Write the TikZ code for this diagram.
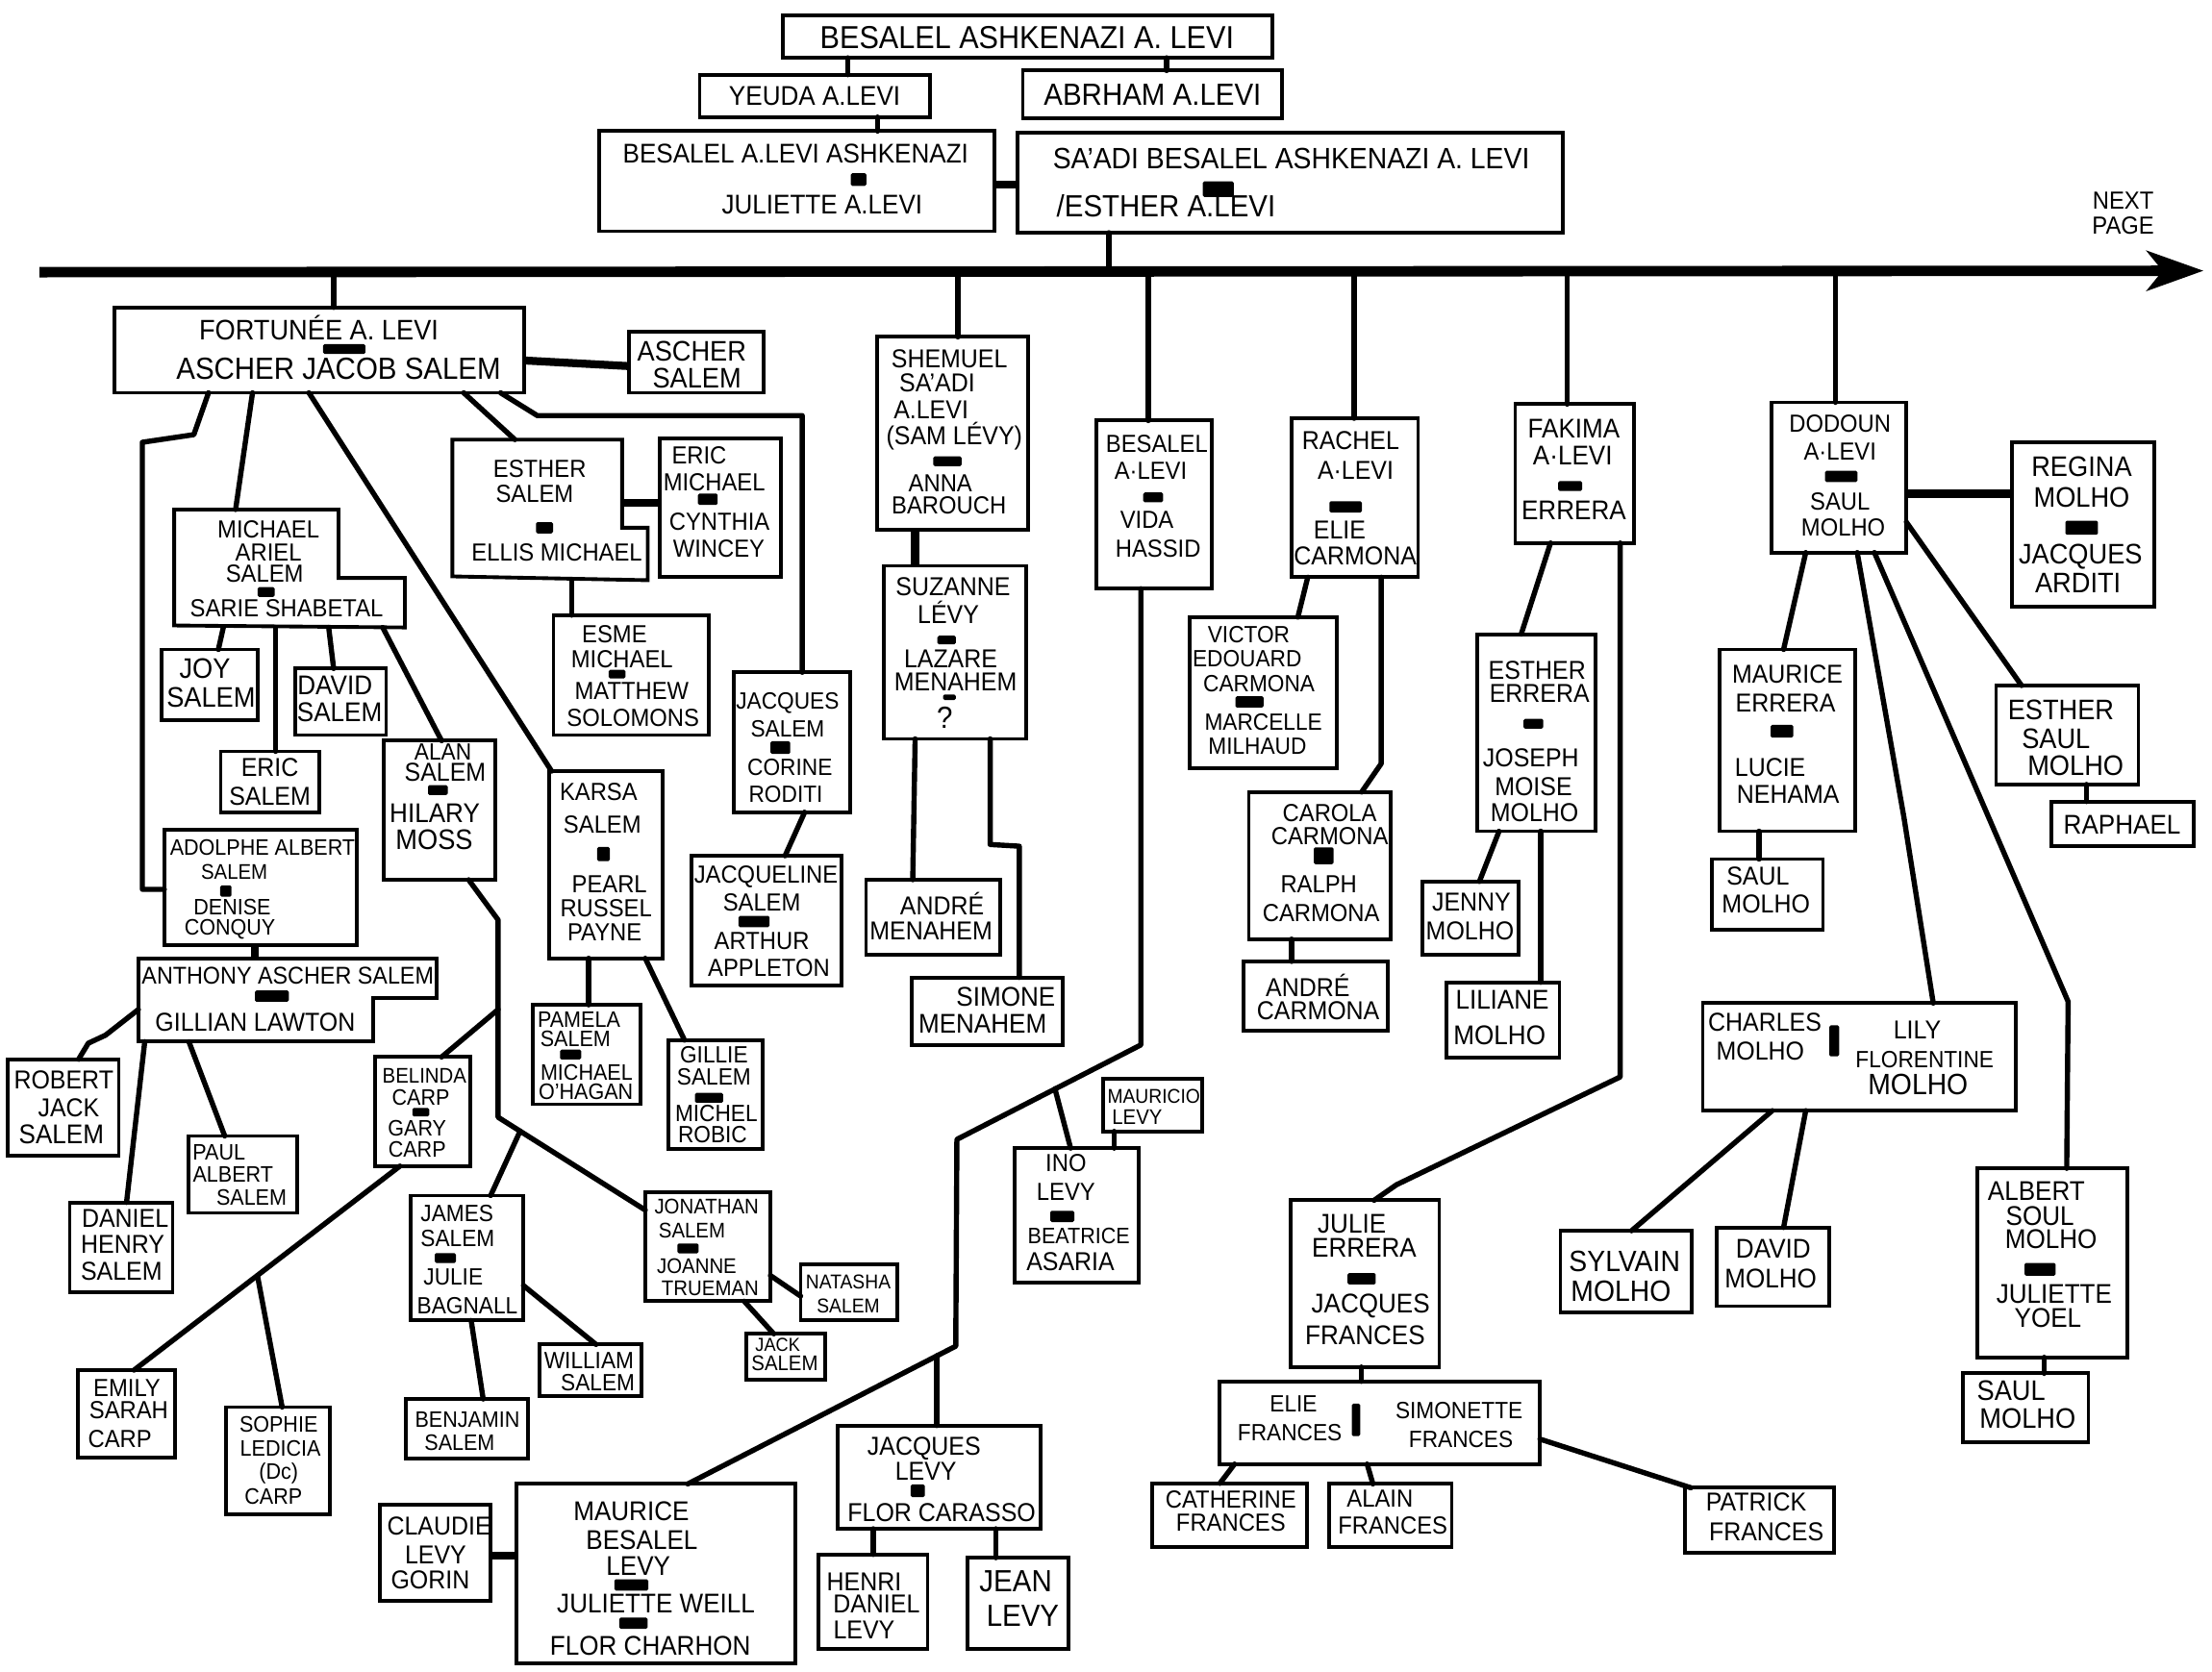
\documentclass[tikz,border=0pt]{standalone}
\usepackage{fontspec}
\setmainfont{Liberation Sans}[FakeStretch=0.926]
\usetikzlibrary{arrows.meta}
\newcounter{lbn}
\tikzset{
  bx/.style={draw, line width=1.5pt, inner sep=0pt, outer sep=0pt},
  bxl/.style={line width=1.5pt, line join=miter},
  lb/.style={inner sep=0pt, outer sep=0pt, align=center},
  mk/.style={fill=black, inner sep=0pt, outer sep=0pt, rounded corners=0.6pt},
  cn/.style={line width=2.1pt, line cap=round, line join=round},
  tk/.style={line width=3.2pt},
}
\newcommand\Lb[3][11]{\stepcounter{lbn}\pgfmathsetmacro\lbsz{#1*0.95}\node[lb,font=\fontsize{\lbsz}{\lbsz}\selectfont] (lb\arabic{lbn}) at (#2) {#3};}
\newcommand\Mk[3]{\stepcounter{lbn}\node[mk,minimum width={#2*0.02cm},minimum height={#3*0.02cm}] (mk\arabic{lbn}) at (#1) {};}
\newcommand\Bx[6][]{\node[bx,#1,minimum width={(#5-#3)*0.02cm},minimum height={(#6-#4)*0.02cm}] (#2) at ({(#3+#5)/2},{(#4+#6)/2}) {};}
\begin{document}
\begin{tikzpicture}[x=0.02cm,y=-0.02cm]
\fill[white] (0,0) rectangle (1568,1185);
\useasboundingbox (0,0) rectangle (1568,1185);

% ---------------- top generations
\Bx{top}{555}{11}{902}{41}
\Lb[13.5]{728,27}{BESALEL ASHKENAZI A. LEVI}
\Bx{yeuda}{496}{53}{659}{83}
\Lb[11.5]{577.5,68}{YEUDA A.LEVI}
\Bx{abrham}{725}{50}{909}{84}
\Lb[13]{817,67}{ABRHAM A.LEVI}
\Bx{bfour}{425}{93}{705}{164}
\Lb[11.5]{564,109}{BESALEL A.LEVI ASHKENAZI}
\Mk{608.6,127.3}{11}{9}
\Lb[11.5]{582.8,145.4}{JULIETTE A.LEVI}
\Bx{bfive}{721}{94}{1108}{165}
\Lb[12.5]{915.3,112.5}{SA'ADI BESALEL ASHKENAZI A. LEVI}
\Mk{863.6,134.1}{22}{11}
\Lb[13]{826.6,146}{/ESTHER A.LEVI}

\coordinate (tlL) at (28,193);
\coordinate (tlR) at (1562,192);
\draw[line width=4.2pt,-{Stealth[length=0.8cm,width=0.56cm,inset=0.22cm]}] (tlL) -- (tlR);
\Lb[10.5]{1505,142}{NEXT}
\Lb[10.5]{1505,160}{PAGE}

\draw[cn] (top.south -| 601,0) -- (yeuda.north -| 601,0);
\draw[cn] (top.south -| 827,0) -- (abrham.north -| 827,0);
\draw[cn] (yeuda.south -| 622,0) -- (bfour.north -| 622,0);
\draw[tk] (bfour.east |- 0,131) -- (bfive.west |- 0,131);
\draw[cn] (bfive.south -| 786,0) -- (tlL -| 786,0);

% ---------------- Fortunee branch
\Bx{fort}{81}{218}{371.5}{278.5}
\Lb[12]{226,232.7}{FORTUNÉE A. LEVI}
\Mk{244,247.5}{30}{7}
\Lb[13]{240,261.5}{ASCHER JACOB SALEM}
\draw[cn] (tlL -| 236.6,0) -- (fort.north -| 236.6,0);
\Bx{ascher}{446}{235.4}{541}{278.5}
\Lb[12]{490.4,249}{ASCHER}
\Lb[12]{494,268}{SALEM}
\draw[tk] (fort.east |- 0,255.6) -- (ascher.west |- 0,259.6);

% Esther Salem (L-shaped)
\Bx[draw=none]{esther}{320.7}{311.7}{459.1}{411.4}
\draw[bxl] (esther.north west) -- (441,311.7) -- (441,374.2) -- (459.1,374.2) -- (esther.south east) -- (320.7,408.7) -- cycle;
\Lb[10.5]{382.6,332.4}{ESTHER}
\Lb[10.5]{379,350}{SALEM}
\Mk{386,374.2}{12}{8}
\Lb[10.5]{394.8,391.7}{ELLIS MICHAEL}
\coordinate (estherR) at (441,356.7);
\draw[cn] (fort.south -| 328.7,0) -- (esther.north -| 365,0);

\Bx{ericm}{467.8}{310.9}{553.8}{409.3}
\Lb[10.5]{495.6,323}{ERIC}
\Lb[10.5]{506.3,341.9}{MICHAEL}
\Mk{501.7,354}{14}{8}
\Lb[10.5]{510,370.2}{CYNTHIA}
\Lb[10.5]{509.6,389.1}{WINCEY}
\draw[tk] (estherR) -- (ericm.west |- estherR);

\Bx{esme}{392.3}{436.2}{502.6}{521.2}
\Lb[10.5]{435.6,449.7}{ESME}
\Lb[10.5]{440.9,467.3}{MICHAEL}
\Mk{437.4,478}{12}{6}
\Lb[10.5]{447.8,490.2}{MATTHEW}
\Lb[10.5]{448.7,509}{SOLOMONS}
\draw[cn] (esther.south -| 405.2,0) -- (esme.north -| 405.2,0);

\Bx{jacqs}{520}{476.7}{602.4}{575.9}
\Lb[10]{558.3,498.3}{JACQUES}
\Lb[10]{558.3,517.1}{SALEM}
\Mk{553.2,530.1}{14}{9}
\Lb[10]{559.9,544.1}{CORINE}
\Lb[10]{557,563}{RODITI}
\draw[cn] (fort.south -| 354.8,0) -- (380.9,294.7) -- (568.7,294.7) -- (jacqs.north -| 568.7,0);

\Bx{jacqline}{490}{606.8}{596.5}{698.9}
\Lb[10.5]{543,621.6}{JACQUELINE}
\Lb[10.5]{540,639.8}{SALEM}
\Mk{534.5,653.4}{22}{8}
\Lb[10.5]{540,667}{ARTHUR}
\Lb[10.5]{545,686.4}{APPLETON}
\draw[cn] (jacqs.south -| 570.4,0) -- (jacqline.north -| 556.5,0);

% Karsa
\Bx{karsa}{389}{546.8}{469.6}{679.5}
\Lb[10.5]{424.3,561.6}{KARSA}
\Lb[10.5]{427,584.5}{SALEM}
\Mk{427.8,605.6}{9}{10}
\Lb[10.5]{432,627.2}{PEARL}
\Lb[10.5]{429.6,644.2}{RUSSEL}
\Lb[10.5]{428.6,661.3}{PAYNE}
\draw[cn] (fort.south -| 219,0) -- (karsa.north -| 391,0);

\Bx{pamela}{377.4}{712.5}{454}{783}
\Lb[9.5]{410.4,722.7}{PAMELA}
\Lb[9.5]{407.9,736.3}{SALEM}
\Mk{404.5,747.7}{15}{7}
\Lb[9.5]{415.8,760.2}{MICHAEL}
\Lb[9.5]{415.3,773.8}{O'HAGAN}
\draw[cn] (karsa.south -| 417.3,0) -- (pamela.north -| 417.3,0);

\Bx{gillie}{473.8}{737.5}{540.9}{814.7}
\Lb[10]{506.1,747.7}{GILLIE}
\Lb[10]{506.1,763.6}{SALEM}
\Mk{502.6,778.4}{20}{7}
\Lb[10]{507.8,789.7}{MICHEL}
\Lb[10]{505.1,804.5}{ROBIC}
\draw[cn] (karsa.south -| 457.4,0) -- (gillie.north -| 485.2,0);

% Michael Ariel (L-shaped)
\Bx[draw=none]{michael}{123.5}{361.3}{287}{444.9}
\draw[bxl] (michael.north west) -- (240,361.3) -- (240,409.8) -- (287,409.8) -- (michael.south east) -- (123.5,443.5) -- cycle;
\Lb[10.5]{190.3,375.6}{MICHAEL}
\Lb[10.5]{190.3,391.5}{ARIEL}
\Lb[10.5]{187.6,406.8}{SALEM}
\Mk{188.7,419.8}{12}{7}
\Lb[10.5]{203.2,431.2}{SARIE SHABETAL}
\draw[cn] (fort.south -| 179,0) -- (michael.north -| 167,0);

\Bx{joy}{114.8}{460.5}{182.6}{510.4}
\Lb[12]{145.2,474}{JOY}
\Lb[12]{149.6,494.2}{SALEM}
\draw[cn] (michael.south -| 158.3,0) -- (joy.north -| 154.8,0);

\Bx{eric}{156.5}{532.8}{226.1}{575.9}
\Lb[11]{191.3,544.1}{ERIC}
\Lb[11]{191.3,564.3}{SALEM}
\draw[cn] (michael.south -| 195.5,0) -- (eric.north -| 195.5,0);

\Bx{david}{209.4}{474}{273.7}{521.2}
\Lb[11.5]{237.4,486.1}{DAVID}
\Lb[11.5]{240.7,505}{SALEM}
\draw[cn] (michael.south -| 233,0) -- (david.north -| 236.5,0);

\Bx{alan}{272}{525.2}{351.3}{623.8}
\Lb[10]{314,533.3}{ALAN}
\Lb[11]{315.6,547.8}{SALEM}
\Mk{310.4,560.2}{14}{7}
\Lb[11.5]{308.2,576.6}{HILARY}
\Lb[12]{307.8,595.6}{MOSS}
\draw[cn] (michael.south -| 271.3,0) -- (alan.north -| 313,0);

% left long line to Adolphe
\Bx{adolphe}{116.5}{588.5}{253.2}{670.3}
\Lb[9.5]{186.1,601.1}{ADOLPHE ALBERT}
\Lb[9]{166.1,618.2}{SALEM}
\Mk{160.1,631.8}{8}{8}
\Lb[9.5]{164.6,643.3}{DENISE}
\Lb[9.5]{163,659.2}{CONQUY}
\draw[cn] (fort.south -| 147.8,0) -- (137.4,308.2) -- (100.9,313.6) -- (100.9,630.6) -- (adolphe.west |- 0,630.6);

\Bx[draw=none]{anthony}{98.1}{679.5}{309.6}{738.6}
\draw[bxl] (anthony.north west) -- (anthony.north east) -- (309.6,707.9) -- (264.4,707.9) -- (264.4,738.6) -- (anthony.south west) -- cycle;
\Lb[10.3]{204,692}{ANTHONY ASCHER SALEM}
\Mk{192.7,706.3}{24}{8}
\Lb[11]{180.9,724.9}{GILLIAN LAWTON}
\draw[tk] (adolphe.south -| 180.9,0) -- (anthony.north -| 180.9,0);

\Bx{robert}{5.2}{751.1}{84.2}{819.3}
\Lb[11]{45.2,765.9}{ROBERT}
\Lb[11]{48.7,785.2}{JACK}
\Lb[11.5]{43.5,804.5}{SALEM}
\draw[cn] (anthony.west |- 0,715.8) -- (74.8,734) -- (62.6,739.7) -- (robert.north -| 55.7,0);

\Bx{daniel}{49.4}{852.6}{122.4}{916.3}
\Lb[11]{88.7,864}{DANIEL}
\Lb[11]{87,882.1}{HENRY}
\Lb[11]{86.1,901.4}{SALEM}
\draw[cn] (anthony.south -| 102.6,0) -- (daniel.north -| 89.7,0);

\Bx{paul}{133.9}{805.5}{210.4}{860}
\Lb[9.5]{155.3,817}{PAUL}
\Lb[9.5]{165.2,832.9}{ALBERT}
\Lb[9.5]{178.3,848.8}{SALEM}
\draw[cn] (anthony.south -| 133.9,0) -- (paul.north -| 159.3,0);

% Alan descendants
\Bx{belinda}{266.1}{749.5}{333.2}{826.8}
\Lb[9]{300.9,762.5}{BELINDA}
\Lb[9.5]{298.3,778.4}{CARP}
\Mk{298.3,788.6}{12}{6}
\Lb[9.5]{295.7,800}{GARY}
\Lb[9.5]{295.7,814.7}{CARP}

\Bx{jonathan}{457.4}{845.4}{546.1}{922.6}
\Lb[9]{500.9,855.6}{JONATHAN}
\Lb[9]{490.5,872.7}{SALEM}
\Mk{487.7,885.2}{15}{7}
\Lb[9]{493.9,897.7}{JOANNE}
\Lb[9]{503.4,913.6}{TRUEMAN}

\Bx{james}{291}{847.7}{371}{936.3}
\Lb[10]{324,860.2}{JAMES}
\Lb[10]{324.4,878.4}{SALEM}
\Mk{315.7,892}{15}{7}
\Lb[10]{321.3,905.6}{JULIE}
\Lb[10]{331.3,926.1}{BAGNALL}

\draw[cn] (alan.south -| 332.2,0) -- (353.1,652.3) -- (353.1,792.2) -- (jonathan.west |- 0,858);
\draw[cn] (353.1,715.8) -- (belinda.north -| 313,0);
\draw[cn] (368.7,802) -- (james.north -| 347.8,0);

\Bx{natasha}{567.5}{896.5}{636.1}{936.3}
\Lb[8.5]{601.3,908.9}{NATASHA}
\Lb[8.5]{601.3,926}{SALEM}
\draw[cn] (jonathan.east |- 0,904.4) -- (natasha.west |- 0,919);

\Bx{jack}{529}{945.8}{585}{978.3}
\Lb[8]{551.3,953.3}{JACK}
\Lb[9]{556.3,966.9}{SALEM}
\draw[cn] (jonathan.south -| 527.5,0) -- (jack.north -| 548.5,0);

\Bx{benjamin}{287.5}{992}{374}{1034}
\Lb[9.5]{331.3,1006.8}{BENJAMIN}
\Lb[9.5]{325.8,1022.7}{SALEM}
\draw[cn] (james.south -| 334,0) -- (benjamin.north -| 342.5,0);

\Bx{william}{382.5}{953.3}{455}{989.6}
\Lb[10]{417.5,964.7}{WILLIAM}
\Lb[10]{423.8,980.6}{SALEM}
\draw[cn] (james.east |- 0,911.5) -- (william.north -| 422.5,0);

\Bx{emily}{55}{971.5}{124}{1033.8}
\Lb[10.5]{90,984}{EMILY}
\Lb[10.5]{91.3,999.9}{SARAH}
\Lb[10.5]{85,1020.4}{CARP}
\Bx{sophie}{160}{997.7}{234}{1073.8}
\Lb[9.5]{197.5,1010.2}{SOPHIE}
\Lb[9.5]{198.8,1027}{LEDICIA}
\Lb[9.5]{197.5,1044.5}{(Dc)}
\Lb[9.5]{193.8,1061}{CARP}
\draw[cn] (belinda.south -| 283.5,0) -- (emily.north -| 95,0);
\coordinate (bsplit) at (182.5,904.5);
\draw[cn] (bsplit) -- (sophie.north -| 200,0);

% ---------------- Shemuel branch
\Bx{shemuel}{621.9}{238.9}{728.7}{375.6}
\Lb[11]{673,254.3}{SHEMUEL}
\Lb[11]{664.3,271.8}{SA'ADI}
\Lb[11]{660,290.7}{A.LEVI}
\Lb[11]{676.5,309.5}{(SAM LÉVY)}
\Mk{671.6,327.1}{20}{7}
\Lb[10.5]{666.6,342.8}{ANNA}
\Lb[10.5]{672.7,358.5}{BAROUCH}
\draw[cn] (tlL -| 679,0) -- (shemuel.north -| 679,0);

\Bx{suzanne}{626.8}{401.2}{727.6}{523.9}
\Lb[11]{675.6,416}{SUZANNE}
\Lb[11]{672.2,434}{LÉVY}
\Mk{671,453.8}{13}{6}
\Lb[11]{673.9,467.3}{LAZARE}
\Lb[11]{677.4,483.4}{MENAHEM}
\Mk{673,494.4}{9}{4}
\Lb[13]{669.6,509}{?}
\draw[tk] (shemuel.south -| 648.7,0) -- (suzanne.north -| 648.7,0);

\Bx{andre}{613.9}{623.8}{708.9}{676.8}
\Lb[11]{667.8,640.9}{ANDRÉ}
\Lb[11]{660,660.2}{MENAHEM}
\draw[cn] (suzanne.south -| 648.7,0) -- (andre.north -| 647,0);

\Bx{simone}{646.5}{693.1}{753.3}{740.8}
\Lb[11.5]{713,706.7}{SIMONE}
\Lb[11.5]{696.5,726}{MENAHEM}
\draw[cn] (suzanne.south -| 701.9,0) -- (701.9,598.8) -- (722.5,600) -- (simone.north -| 722.5,0);

% ---------------- Besalel A.Levi branch
\Bx{bsl}{777.4}{298.2}{859.1}{417.4}
\Lb[10.5]{820,314.9}{BESALEL}
\Lb[10.5]{815.7,333.8}{A·LEVI}
\Mk{817.4,352.7}{14}{7}
\Lb[10.5]{813,368.8}{VIDA}
\Lb[10.5]{820.9,389.1}{HASSID}
\draw[cn] (tlL -| 814,0) -- (bsl.north -| 814,0);

\Bx{maurice}{366}{1052.2}{564}{1179.5}
\Lb[11.5]{447.5,1071.5}{MAURICE}
\Lb[11.5]{455,1092}{BESALEL}
\Lb[11.5]{452.5,1110.2}{LEVY}
\Mk{447.5,1123.8}{24}{8}
\Lb[11.5]{465,1137.4}{JULIETTE WEILL}
\Mk{449,1151}{20}{8}
\Lb[11.5]{461,1167}{FLOR CHARHON}
\draw[cn] (bsl.south -| 808.7,0) -- (808.7,740.9) -- (678.3,807.9) -- (677.5,954.5) -- (maurice.north -| 487.5,0);

\Bx{claudie}{269}{1067}{347.5}{1135.2}
\Lb[11]{311.3,1081.8}{CLAUDIE}
\Lb[11]{308.8,1102.2}{LEVY}
\Lb[11]{305,1120.4}{GORIN}
\draw[tk] (claudie.east |- 0,1103.3) -- (maurice.west |- 0,1103.3);

\Bx{mauricio}{782}{764.7}{852.2}{802.2}
\Lb[8.5]{817.9,777.2}{MAURICIO}
\Lb[9]{806.1,792}{LEVY}

\Bx{ino}{719.3}{814.1}{806.9}{909.6}
\Lb[10.5]{755.6,825}{INO}
\Lb[10.5]{755.6,845.4}{LEVY}
\Mk{753,862.5}{17}{8}
\Lb[9.5]{764.7,876.1}{BEATRICE}
\Lb[11]{758.8,894.3}{ASARIA}
\draw[cn] (747.8,772) -- (ino.north -| 758.9,0);
\draw[cn] (mauricio.south -| 789.8,0) -- (ino.north -| 789.8,0);

\Bx{jacqlevy}{594}{1010.8}{737.5}{1084}
\Lb[11]{655,1026.8}{JACQUES}
\Lb[11]{656.3,1043.5}{LEVY}
\Mk{650.5,1057}{10}{9}
\Lb[11]{667.5,1072.7}{FLOR CARASSO}
\draw[cn] (664,961.3) -- (jacqlevy.north -| 664,0);

\Bx{henri}{580}{1102.2}{657.5}{1169.3}
\Lb[11]{612.5,1121.5}{HENRI}
\Lb[11]{621.3,1137.4}{DANIEL}
\Lb[11]{612.5,1155.6}{LEVY}
\draw[cn] (jacqlevy.south -| 619,0) -- (henri.north -| 619,0);

\Bx{jean}{686}{1104.5}{757.5}{1169.3}
\Lb[13]{720,1121.5}{JEAN}
\Lb[13]{725,1145.4}{LEVY}
\draw[cn] (jacqlevy.south -| 706,0) -- (jean.north -| 706,0);

% ---------------- Rachel branch
\Bx{rachel}{915.5}{296.6}{1005.2}{409.3}
\Lb[11]{957.4,312.2}{RACHEL}
\Lb[11]{960.9,333.8}{A·LEVI}
\Mk{953.9,359.4}{23}{8}
\Lb[11]{949.6,375.6}{ELIE}
\Lb[11]{960.7,394.5}{CARMONA}
\draw[cn] (tlL -| 960,0) -- (rachel.north -| 960,0);

\Bx{victor}{843.5}{437.6}{947.8}{544.6}
\Lb[10]{885.2,449.7}{VICTOR}
\Lb[10]{884,467.3}{EDOUARD}
\Lb[10]{892.5,484.8}{CARMONA}
\Mk{885.7,497.7}{20}{8}
\Lb[10]{895.6,511.7}{MARCELLE}
\Lb[10]{891.3,529.3}{MILHAUD}
\draw[cn] (rachel.south -| 927,0) -- (victor.north -| 920,0);

\Bx{carola}{885.2}{561.6}{986}{665.9}
\Lb[10.5]{942.6,576.4}{CAROLA}
\Lb[10.5]{942.6,592.6}{CARMONA}
\Mk{938.3,606.8}{14}{12}
\Lb[10.5]{934.8,627.2}{RALPH}
\Lb[10.5]{936.5,647.7}{CARMONA}
\draw[cn] (rachel.south -| 979.1,0) -- (979.1,541.4) -- (carola.north -| 965.2,0);

\Bx{andrec}{881.7}{681.7}{983.6}{730.6}
\Lb[11]{927,698.8}{ANDRÉ}
\Lb[11]{934.4,717}{CARMONA}
\draw[cn] (carola.south -| 915.5,0) -- (andrec.north -| 915.5,0);

% ---------------- Fakima branch
\Bx{fakima}{1074.1}{286.6}{1158.3}{385}
\Lb[11.5]{1115.6,304.1}{FAKIMA}
\Lb[11.5]{1114.8,323}{A·LEVI}
\Mk{1113,344.6}{17}{7}
\Lb[11.5]{1115.6,362.1}{ERRERA}
\draw[cn] (tlL -| 1111,0) -- (fakima.north -| 1111,0);

\Bx{esthere}{1047}{449.7}{1131.1}{589.4}
\Lb[11]{1089.6,475.3}{ESTHER}
\Lb[11]{1091.3,491.5}{ERRERA}
\Mk{1087,513.1}{14}{7}
\Lb[11]{1085.2,537.3}{JOSEPH}
\Lb[11]{1087,557.6}{MOISE}
\Lb[11]{1087.8,576.4}{MOLHO}
\draw[cn] (fakima.south -| 1099.1,0) -- (esthere.north -| 1078.3,0);

\Bx{jenny}{1008}{625}{1076.5}{677.2}
\Lb[11]{1043,639.7}{JENNY}
\Lb[11]{1042,660.2}{MOLHO}
\draw[cn] (esthere.south -| 1062.6,0) -- (jenny.north -| 1048.7,0);

\Bx{liliane}{1025.4}{696.5}{1105.4}{750}
\Lb[11.5]{1064.9,709}{LILIANE}
\Lb[11.5]{1063,734.1}{MOLHO}
\draw[cn] (esthere.south -| 1092.2,0) -- (liliane.north -| 1092.2,0);

\Bx{juliee}{914.7}{851.1}{1020.2}{969.3}
\Lb[11.5]{958.3,868.1}{JULIE}
\Lb[11.5]{967,885.1}{ERRERA}
\Mk{965.2,906.7}{20}{8}
\Lb[11.5]{971.6,926.1}{JACQUES}
\Lb[11.5]{967.7,946.5}{FRANCES}
\draw[cn] (fakima.south -| 1148.5,0) -- (1148.5,763.6) -- (990,840) -- (juliee.north -| 974,0);

\Bx{elie}{864.7}{979.5}{1091.6}{1038.1}
\Lb[10]{916.9,995.4}{ELIE}
\Lb[10]{914.3,1015.9}{FRANCES}
\Mk{961.2,1006.8}{6}{23}
\Lb[10]{1034.3,1000}{SIMONETTE}
\Lb[10]{1035.6,1020.4}{FRANCES}
\draw[cn] (juliee.south -| 964.9,0) -- (elie.north -| 964.9,0);

\Bx{catherine}{816.7}{1051.8}{926.3}{1097.2}
\Lb[10.5]{872.5,1063.6}{CATHERINE}
\Lb[10.5]{872.5,1079.5}{FRANCES}
\draw[cn] (elie.south -| 875.1,0) -- (catherine.north -| 864.7,0);

\Bx{alain}{941.9}{1052.2}{1029.1}{1097.2}
\Lb[10.5]{978.2,1062.4}{ALAIN}
\Lb[10.5]{987.3,1081.8}{FRANCES}
\draw[cn] (elie.south -| 969.1,0) -- (alain.north -| 973.2,0);

\Bx{patrick}{1194.4}{1054.9}{1300.3}{1101}
\Lb[11]{1244.8,1064.7}{PATRICK}
\Lb[11]{1252.1,1086.3}{FRANCES}
\draw[cn] (elie.east |- 0,1020.4) -- (patrick.north -| 1198.6,0);

% ---------------- Dodoun branch
\Bx{dodoun}{1255.6}{285.3}{1351.3}{391.8}
\Lb[10.5]{1304.3,300.1}{DODOUN}
\Lb[10.5]{1304.3,320.3}{A·LEVI}
\Mk{1305.2,337.8}{23}{8}
\Lb[10.5]{1304.3,355.4}{SAUL}
\Lb[10.5]{1306.6,374.2}{MOLHO}
\draw[cn] (tlL -| 1301,0) -- (dodoun.north -| 1301,0);

\Bx{regina}{1426.1}{313.6}{1527}{430.3}
\Lb[12]{1475.6,331.1}{REGINA}
\Lb[12]{1475.6,352.7}{MOLHO}
\Mk{1475.6,374.2}{23}{10}
\Lb[12]{1474.8,394.5}{JACQUES}
\Lb[12]{1473,413.3}{ARDITI}
\draw[tk] (dodoun.east |- 0,350) -- (regina.west |- 0,350);

\Bx{maure}{1219.1}{460.5}{1314.8}{589.4}
\Lb[11]{1267,478}{MAURICE}
\Lb[11]{1265.7,498.3}{ERRERA}
\Mk{1263.1,518.5}{16}{9}
\Lb[11]{1254.8,544.1}{LUCIE}
\Lb[11]{1267.5,563}{NEHAMA}
\draw[cn] (dodoun.south -| 1280,0) -- (maure.north -| 1264.3,0);

\Bx{saulone}{1213.2}{609.1}{1292.2}{659.1}
\Lb[11]{1246.1,621.5}{SAUL}
\Lb[11]{1251.8,640.9}{MOLHO}
\draw[cn] (maure.south -| 1247,0) -- (saulone.north -| 1247,0);

\Bx{esthers}{1414.9}{486.1}{1515.8}{556.2}
\Lb[12]{1460.9,503.6}{ESTHER}
\Lb[12]{1457.4,523.9}{SAUL}
\Lb[12]{1471.3,542.7}{MOLHO}
\draw[cn] (dodoun.east |- 0,370.2) -- (esthers.north -| 1433,0);

\Bx{raphael}{1453.9}{568.4}{1554.8}{600.2}
\Lb[11.5]{1504.3,585}{RAPHAEL}
\draw[cn] (esthers.south -| 1479,0) -- (raphael.north -| 1479,0);

\Bx{charles}{1207}{711.3}{1429}{787.5}
\Lb[11]{1251,725}{CHARLES}
\Lb[11]{1247.8,745.4}{MOLHO}
\Mk{1300.2,738}{7}{22}
\Lb[11]{1359.1,730.6}{LILY}
\Lb[10]{1364.3,751.1}{FLORENTINE}
\Lb[12.5]{1359.6,769.3}{MOLHO}
\draw[cn] (dodoun.south -| 1316.5,0) -- (1349.6,579.5) -- (charles.north -| 1370.4,0);

\Bx{sylvain}{1106.1}{872.7}{1199.3}{930.6}
\Lb[12.5]{1151.6,894.3}{SYLVAIN}
\Lb[12.5]{1149,915.8}{MOLHO}
\draw[cn] (charles.south -| 1256.3,0) -- (sylvain.north -| 1156.5,0);

\Bx{davidm}{1216.7}{870.4}{1296.7}{926.1}
\Lb[11.5]{1257,885.2}{DAVID}
\Lb[11.5]{1255.2,906.7}{MOLHO}
\draw[cn] (charles.south -| 1280,0) -- (davidm.north -| 1264.3,0);

\Bx{albert}{1401.7}{828.4}{1507.8}{962.4}
\Lb[11.5]{1443.5,844.3}{ALBERT}
\Lb[11.5]{1446.1,862.3}{SOUL}
\Lb[11.5]{1453.9,878.6}{MOLHO}
\Mk{1446.1,900}{22}{9}
\Lb[11.5]{1456.1,917.9}{JULIETTE}
\Lb[11.5]{1451.7,934.2}{YOEL}
\draw[cn] (dodoun.south -| 1328.7,0) -- (1466,710.2) -- (albert.north -| 1465,0);

\Bx{saultwo}{1391.6}{973.8}{1480.4}{1022.7}
\Lb[12]{1425.6,986.3}{SAUL}
\Lb[12]{1437.3,1005.6}{MOLHO}
\draw[cn] (albert.south -| 1449.1,0) -- (saultwo.north -| 1449.1,0);

\end{tikzpicture}
\end{document}
